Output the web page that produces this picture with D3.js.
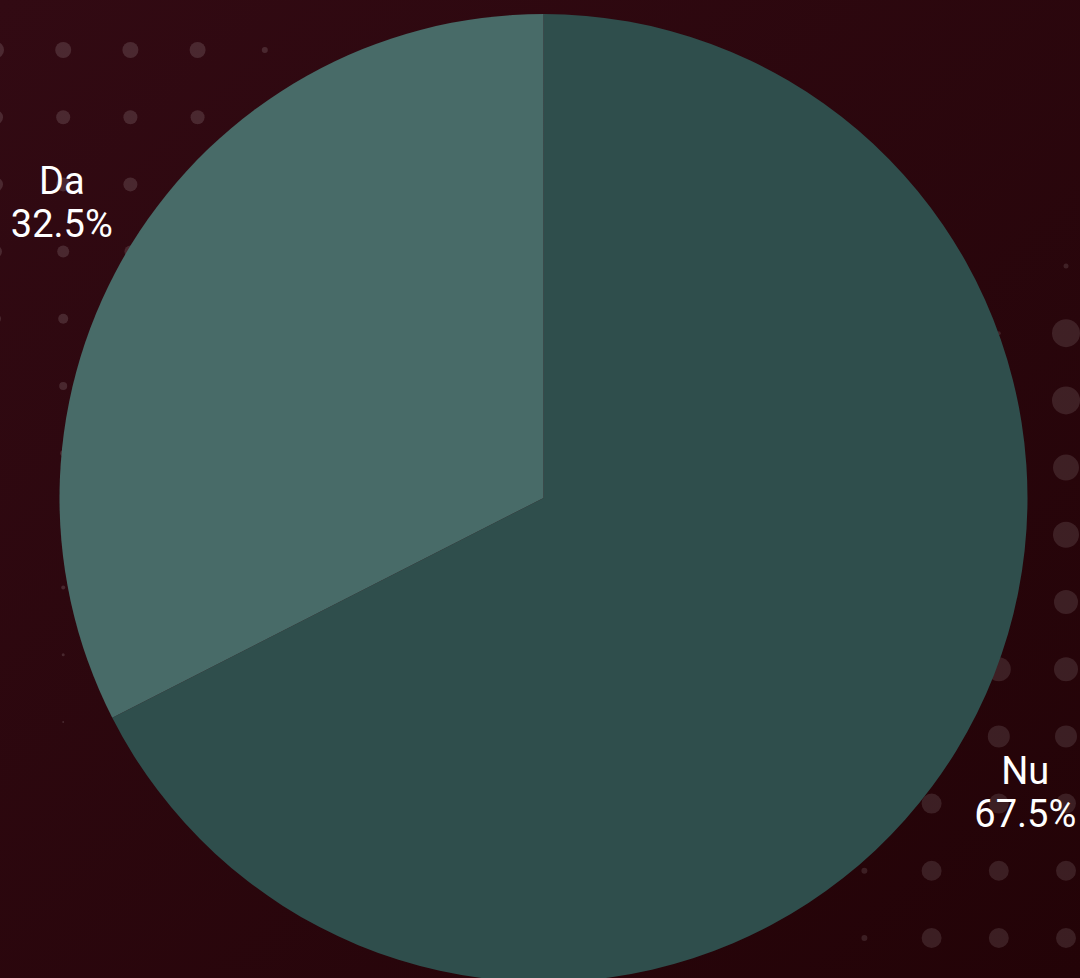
<!DOCTYPE html>
<html>
<head>
<meta charset="utf-8">
<script src="https://cdn.jsdelivr.net/npm/d3@7"></script>
<style>
  html, body { margin: 0; padding: 0; background: #2a070e; }
  svg { display: block; }
</style>
</head>
<body>
<div id="chart"></div>
<script>
var width = 1080,
  height = 978;

// chart data
var categories = ["Nu", "Da"];
var values = [67.5, 32.5];
var sliceColors = ["#2f4e4c", "#486b68"];

// background dot pattern (grid column, grid row, radius)
var leftDots = [
  [0, 0, 8], [1, 0, 8], [2, 0, 8], [3, 0, 8], [4, 0, 3],
  [0, 1, 7], [1, 1, 7], [2, 1, 7], [3, 1, 7],
  [0, 2, 7], [1, 2, 7], [2, 2, 7],
  [0, 3, 6], [1, 3, 6], [2, 3, 6],
  [0, 4, 5], [1, 4, 5],
  [0, 5, 4], [1, 5, 4],
  [1, 6, 3], [1, 8, 2], [1, 9, 1.5], [1, 10, 1]
];
var rightDots = [
  [0, 0, 2.5],
  [0, 1, 14], [1, 1, 2],
  [0, 2, 14], [0, 3, 13], [0, 4, 13], [0, 5, 12],
  [0, 6, 12], [1, 6, 12],
  [0, 7, 11], [1, 7, 11],
  [0, 8, 10], [1, 8, 10], [2, 8, 10],
  [0, 9, 10], [1, 9, 10], [2, 9, 10], [3, 9, 3],
  [0, 10, 10], [1, 10, 10], [2, 10, 10], [3, 10, 3]
];

var svg = d3
  .select("#chart")
  .append("svg")
  .attr("width", width)
  .attr("height", height);

var defs = svg.append("defs");
var grad = defs
  .append("linearGradient")
  .attr("id", "bg")
  .attr("x1", "0%")
  .attr("y1", "0%")
  .attr("x2", "100%")
  .attr("y2", "100%");
grad.append("stop").attr("offset", "0%").attr("stop-color", "#320a13");
grad.append("stop").attr("offset", "100%").attr("stop-color", "#230307");

svg
  .append("rect")
  .attr("width", width)
  .attr("height", height)
  .attr("fill", "url(#bg)");

var step = 67.2;
svg
  .append("g")
  .selectAll("circle")
  .data(leftDots)
  .enter()
  .append("circle")
  .attr("cx", function (d) { return -4 + d[0] * step; })
  .attr("cy", function (d) { return 50 + d[1] * step; })
  .attr("r", function (d) { return d[2]; })
  .attr("fill", "rgba(255,255,255,0.13)");

svg
  .append("g")
  .selectAll("circle")
  .data(rightDots)
  .enter()
  .append("circle")
  .attr("cx", function (d) { return 1066 - d[0] * step; })
  .attr("cy", function (d) { return 266 + d[1] * step; })
  .attr("r", function (d) { return d[2]; })
  .attr("fill", "rgba(255,255,255,0.11)");

var radius = 484;
var g = svg.append("g").attr("transform", "translate(543.5,498)");

var pie = d3.pie().sort(null).value(function (d) { return d; });
var arcs = pie(values);

var arc = d3.arc().innerRadius(0).outerRadius(radius);
var labelArc = d3.arc().innerRadius(565).outerRadius(565);

g.selectAll("path")
  .data(arcs)
  .enter()
  .append("path")
  .attr("d", arc)
  .attr("fill", function (d, i) { return sliceColors[i]; });

var labels = g
  .selectAll("text")
  .data(arcs)
  .enter()
  .append("text")
  .attr("transform", function (d) {
    return "translate(" + labelArc.centroid(d) + ")";
  })
  .attr("text-anchor", "middle")
  .attr("fill", "#ffffff")
  .style("font-family", "Roboto, 'Open Sans', sans-serif")
  .style("font-size", "38px");

labels
  .append("tspan")
  .attr("x", 0)
  .attr("y", -9)
  .text(function (d, i) { return categories[i]; });
labels
  .append("tspan")
  .attr("x", 0)
  .attr("y", 34)
  .text(function (d) { return d.data.toFixed(1) + "%"; });
</script>
</body>
</html>
